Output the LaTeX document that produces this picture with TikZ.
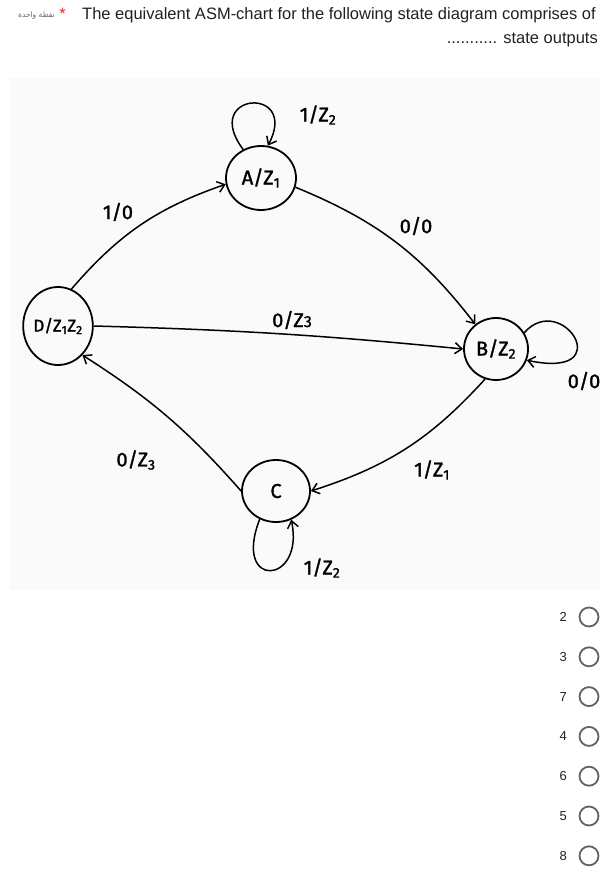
\documentclass[tikz,border=0pt]{standalone}
\usepackage{fontspec}
\setmainfont{Liberation Sans}
\newfontfamily\handfont[FakeBold=1.5]{Fira Sans}
\newfontfamily\arabicfont[Script=Arabic]{DejaVu Sans}
\TeXXeTstate=1
\usetikzlibrary{arrows.meta,positioning,shapes.geometric}
\definecolor{qtext}{HTML}{202124}
\definecolor{qgray}{HTML}{5F6368}
\definecolor{qred}{HTML}{D93025}
\definecolor{photo}{HTML}{FAFAFA}

\begin{document}
\begin{tikzpicture}[x=1pt, y=1pt, >={Straight Barb[length=7pt,width=11pt]},
  state/.style={draw, ellipse, line width=1.8pt, inner sep=0pt, font=\handfont\fontsize{20}{20}\selectfont},
  trans/.style={->, line width=1.5pt},
  lbl/.style={font=\handfont\fontsize{20}{20}\selectfont},
  qline/.style={text=qtext, font=\fontsize{16.5}{19}\selectfont, inner sep=0pt},
  radio/.style={draw=qgray, circle, line width=1.8pt, minimum size=19pt, inner sep=0pt},
  optnum/.style={font=\fontsize{13}{13}\selectfont, text=qtext, anchor=east, inner sep=0pt}]
  \useasboundingbox (0,0) rectangle (612,-883);
  \fill[photo] (10,-78) rectangle (600,-590);

  % question
  \node[qline, anchor=base west] (qline1) at (82,-20) {The equivalent ASM-chart for the following state diagram comprises of};
  \node[qline, anchor=base east] (qline2) at (598,-44) {........... state outputs};
  \node[qline, anchor=base east, text=qred] (star) at (66,-20) {*};
  \node[anchor=base east, text=qgray, inner sep=0pt, font=\arabicfont\fontsize{7.5}{7.5}\selectfont] (points) at (55,-18) {\beginR نقطة واحدة\endR};

  % states
  \node[state, minimum width=70pt, minimum height=64pt] (a) at (261,-178) {A/Z\textsubscript{1}};
  \node[state, minimum width=68pt, minimum height=78pt, font=\handfont\fontsize{17}{17}\selectfont] (d) at (58,-326) {D/Z\textsubscript{1}Z\textsubscript{2}};
  \node[state, minimum width=64pt, minimum height=62pt] (b) at (496,-349) {B/Z\textsubscript{2}};
  \node[state, minimum width=68pt, minimum height=62pt] (c) at (276,-491) {C};

  % transitions
  \draw[trans] (d.70) to[bend left=15] (a.190);
  \draw[trans] (a.-15) to[bend left=15] (b.130);
  \draw[trans] (d.east) to[bend left=2] (b.west);
  \draw[trans] (b.250) to[bend left=15] (c.east);
  \draw[trans] (c.west) to[bend right=8] (d.-50);
  \draw[trans] (a.122) .. controls (200,-92) and (300,-85) .. (a.78);
  \draw[trans] (b.30) .. controls (562,-290) and (620,-380) .. (b.-20);
  \draw[trans] (c.240) .. controls (232,-590) and (305,-585) .. (c.-62);

  % labels
  \node[lbl] (lblaa) at (318,-115) {1/Z\textsubscript{2}};
  \node[lbl] (lblda) at (118,-212) {1/0};
  \node[lbl] (lblab) at (416,-226) {0/0};
  \node[lbl] (lbldb) at (292,-320) {0/Z{\fontsize{16}{16}\selectfont 3}};
  \node[lbl] (lblbb) at (584,-381) {0/0};
  \node[lbl] (lblbc) at (432,-470) {1/Z\textsubscript{1}};
  \node[lbl] (lblcd) at (136,-460) {0/Z\textsubscript{3}};
  \node[lbl] (lblcc) at (322,-568) {1/Z\textsubscript{2}};

  % answer options
  \foreach \val [count=\i from 0] in {2,3,7,4,6,5,8} {
    \node[optnum] (num\val) at (567,-617-39.8*\i) {\val};
    \node[radio] (opt\val) at (589,-617-39.8*\i) {};
  }
\end{tikzpicture}
\end{document}
